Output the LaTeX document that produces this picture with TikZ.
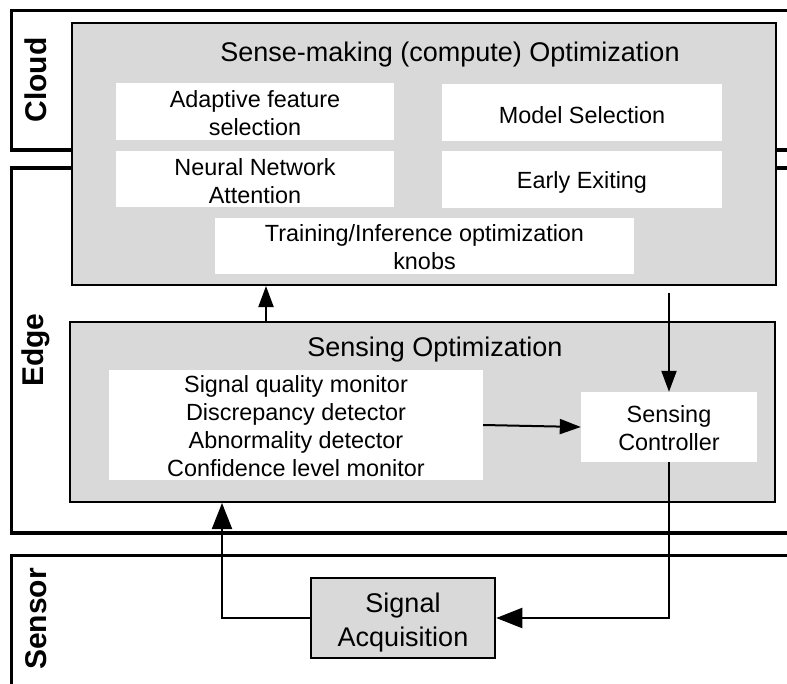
\documentclass[tikz,border=0pt]{standalone}
\usepackage{fontspec}
\setmainfont{Liberation Sans}
\usetikzlibrary{arrows.meta}
\definecolor{panelgray}{HTML}{D9D9D9}
\tikzset{
  tier/.style={line width=3.5pt, draw=black},
  tierlabel/.style={rotate=90, font=\fontsize{30}{34}\selectfont\bfseries, inner sep=0pt},
  panel/.style={draw=black, line width=2pt, fill=panelgray, inner sep=0pt},
  knob/.style={fill=white, draw=none, inner sep=0pt},
  knobtext/.style={inner sep=0pt, align=center, font=\fontsize{23.4}{28}\selectfont},
  heading/.style={inner sep=0pt, font=\fontsize{27}{32}\selectfont},
  flow/.style={line width=2pt, -{Triangle[length=21pt, width=15pt]}},
  bigflow/.style={line width=2pt, -{Triangle[length=26pt, width=20pt]}},
}
\begin{document}
\begin{tikzpicture}[x=1pt, y=-1pt]
\useasboundingbox (0,0) rectangle (787,683);
\clip (0,0) rectangle (787,683);
\fill[white] (0,0) rectangle (787,683);

% tiers
\draw[tier] (11.5,10.5) rectangle (820,150);
\draw[tier] (11.5,168) rectangle (820,533);
\draw[tier] (11.5,555.5) rectangle (820,720);
\node[tierlabel] (cloudlbl) at (36,80) {Cloud};
\node[tierlabel] (edgelbl) at (36,350) {Edge};
\node[tierlabel] (sensorlbl) at (36,619) {Sensor};

% sense-making panel
\node[panel, minimum width=704pt, minimum height=262pt] (opt) at (424,154) {};
\node[heading] (opttitle) at (450,55) {Sense-making (compute) Optimization};
\node[knob, minimum width=278pt, minimum height=57pt] (adapt) at (255,111.5) {};
\node[knob, minimum width=278pt, minimum height=56pt] (neural) at (255,179) {};
\node[knob, minimum width=280pt, minimum height=57pt] (model) at (582,112.5) {};
\node[knob, minimum width=280pt, minimum height=57pt] (early) at (582,179.5) {};
\node[knob, minimum width=419pt, minimum height=56pt] (train) at (424.5,246) {};
\node[knobtext] (adapttxt) at ([yshift=-2pt]adapt.center) {Adaptive feature\\selection};
\node[knobtext] (neuraltxt) at ([yshift=-2pt]neural.center) {Neural Network\\Attention};
\node[knobtext] (modeltxt) at ([yshift=-2.5pt]model.center) {Model Selection};
\node[knobtext] (earlytxt) at ([yshift=-3pt]early.center) {Early Exiting};
\node[knobtext] (traintxt) at ([yshift=-1pt]train.center) {Training/Inference optimization\\knobs};

% sensing panel
\node[panel, minimum width=705pt, minimum height=180pt] (sense) at (422.5,412) {};
\node[heading] (sensetitle) at (435,350) {Sensing Optimization};
\node[knob, minimum width=374pt, minimum height=110pt] (monitor) at (296,425) {};
\node[knob, minimum width=176pt, minimum height=70pt] (ctrl) at (669,427) {};
\node[knobtext] (monitortxt) at ([yshift=-1pt]monitor.center)
  {Signal quality monitor\\Discrepancy detector\\Abnormality detector\\Confidence level monitor};
\node[knobtext] (ctrltxt) at ([yshift=-1.5pt]ctrl.center) {Sensing\\Controller};

% signal acquisition
\node[draw=black, line width=2.5pt, fill=panelgray, inner sep=0pt,
      minimum width=184pt, minimum height=80pt] (acq) at (403,618) {};
\node[inner sep=0pt, align=center, font=\fontsize{27}{34}\selectfont] (acqtxt)
  at ([yshift=-4.5pt]acq.center) {Signal\\Acquisition};

% connectors
\coordinate (upx) at (266,0);
\coordinate (loopx) at (222,0);
\draw[flow] (sense.north -| upx) -- (opt.south -| upx);
\draw[flow] ([yshift=-7pt]opt.south -| ctrl.north) -- (ctrl.north);
\draw[flow] (monitor.east) -- (ctrl.west);
\draw[bigflow] (ctrl.south) -- (ctrl.south |- acq.east) -- (acq.east);
\draw[bigflow] (acq.west) -- (acq.west -| loopx) -- (sense.south -| loopx);
\end{tikzpicture}
\end{document}
